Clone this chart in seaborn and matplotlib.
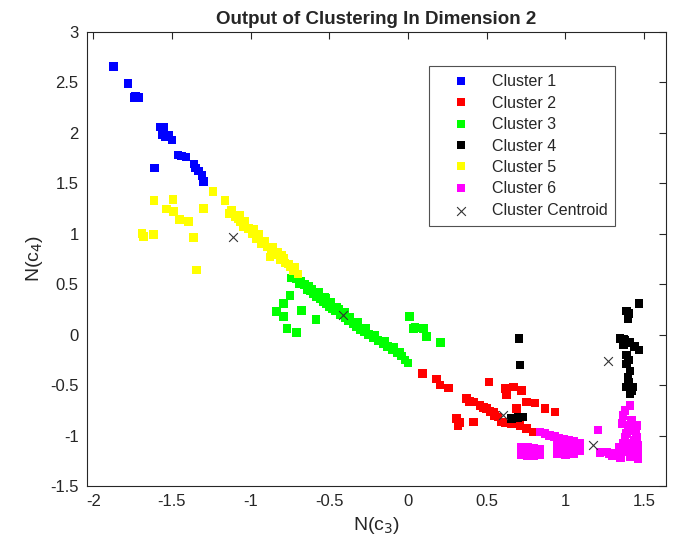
import pandas as pd
import matplotlib
matplotlib.use("Agg")
import matplotlib.pyplot as plt
import seaborn as sns

# Normalised c3 / c4 values, one list pair per cluster
c1_x = [-1.87, -1.78, -1.74, -1.71, -1.73, -1.575, -1.554, -1.564, -1.54, -1.52,
        -1.50, -1.46, -1.44, -1.41, -1.36, -1.35, -1.33, -1.31, -1.30, -1.61]
c1_y = [2.66, 2.49, 2.35, 2.35, 2.36, 2.06, 2.06, 1.98, 1.96, 1.98,
        1.93, 1.78, 1.77, 1.76, 1.69, 1.65, 1.62, 1.58, 1.52, 1.65]

c2_x = [0.093, 0.182, 0.203, 0.256, 0.516, 0.373, 0.415, 0.457, 0.50, 0.542,
        0.573, 0.595, 0.658, 0.711, 0.754, 0.796, 0.309, 0.319, 0.415, 0.616,
        0.669, 0.722, 0.627, 0.69, 0.754, 0.806, 0.87, 0.933, 0.39, 0.48,
        0.52, 0.55, 0.62, 0.33]
c2_y = [-0.385, -0.44, -0.50, -0.53, -0.47, -0.633, -0.667, -0.70, -0.732, -0.766,
        -0.815, -0.865, -0.881, -0.898, -0.93, -0.964, -0.83, -0.90, -0.865, -0.534,
        -0.518, -0.551, -0.60, -0.732, -0.667, -0.676, -0.732, -0.766, -0.66, -0.72,
        -0.76, -0.80, -0.87, -0.87]

c3_x = [-0.74, -0.71, -0.69, -0.68, -0.66, -0.64, -0.63, -0.62, -0.60, -0.58,
        -0.57, -0.56, -0.54, -0.52, -0.52, -0.50, -0.48, -0.46, -0.45, -0.43,
        -0.40, -0.40, -0.38, -0.35, -0.33, -0.30, -0.28, -0.25, -0.22, -0.19,
        -0.16, -0.13, -0.10, -0.07, -0.04, -0.02, 0.00,
        -0.70, -0.655, -0.61, -0.565, -0.53, -0.49, -0.44, -0.37, -0.32, -0.27,
        -0.21, -0.15, -0.09, -0.05,
        -0.749, -0.79, -0.834, -0.79, -0.675, -0.584, -0.77, -0.707, 0.008, 0.034,
        0.044, 0.097, 0.119, 0.208]
c3_y = [0.56, 0.55, 0.50, 0.53, 0.49, 0.45, 0.48, 0.44, 0.41, 0.38,
        0.42, 0.36, 0.33, 0.31, 0.36, 0.28, 0.26, 0.24, 0.27, 0.20,
        0.17, 0.22, 0.14, 0.11, 0.08, 0.05, 0.03, 0.00, -0.03, -0.06,
        -0.09, -0.12, -0.15, -0.18, -0.21, -0.25, -0.28,
        0.55, 0.50, 0.45, 0.40, 0.37, 0.32, 0.25, 0.17, 0.12, 0.06,
        -0.01, -0.07, -0.13, -0.17,
        0.39, 0.31, 0.23, 0.18, 0.24, 0.15, 0.06, 0.02, 0.18, 0.06,
        0.07, 0.06, -0.02, -0.08]

c4_x = [0.705, 0.711, 0.658, 0.700, 0.732, 1.469, 1.389, 1.399, 1.346, 1.38,
        1.41, 1.44, 1.469, 1.389, 1.389, 1.399, 1.389, 1.431, 1.41, 1.40,
        1.40, 1.37, 1.41, 1.40, 1.42, 1.37]
c4_y = [-0.04, -0.30, -0.83, -0.82, -0.815, 0.31, 0.236, 0.16, -0.038, -0.06,
        -0.08, -0.12, -0.154, -0.203, -0.293, -0.42, -0.52, -0.52, -0.583, -0.25,
        0.21, -0.10, -0.36, -0.47, -0.56, -0.05]

c5_x = [-1.613, -1.494, -1.536, -1.49, -1.452, -1.395, -1.691, -1.617, -1.681, -1.363,
        -1.342, -1.30, -1.24, -1.162, -1.135, -1.071, -1.067, -1.046, -1.014, -0.992,
        -0.961, -0.929, -0.897, -0.876, -0.866, -0.844, -0.813, -0.80, -0.781, -0.749,
        -0.73, -0.717, -0.70,
        -1.10, -1.04, -0.98, -0.95, -0.91, -0.86, -0.83, -0.79, -0.76, -0.72,
        -1.12, -1.08]
c5_y = [1.33, 1.34, 1.245, 1.22, 1.14, 1.12, 1.00, 0.99, 0.97, 0.96,
        0.64, 1.25, 1.42, 1.33, 1.20, 1.18, 1.12, 1.07, 1.05, 1.00,
        0.95, 0.90, 0.87, 0.77, 0.84, 0.79, 0.74, 0.79, 0.71, 0.67,
        0.63, 0.64, 0.60,
        1.17, 1.12, 1.04, 0.99, 0.93, 0.87, 0.82, 0.76, 0.70, 0.67,
        1.23, 1.15]

c6_x = [0.838, 0.87, 0.90, 0.93, 0.96, 0.99, 1.02, 1.05, 1.092,
        0.72, 0.76, 0.80, 0.84, 0.72, 0.76, 0.80, 0.84,
        0.95, 1.00, 1.05, 1.08, 0.95, 1.00, 1.05, 1.09,
        1.41, 1.367, 1.208, 1.452, 1.389, 1.452, 1.367, 1.431, 1.262, 1.325,
        1.41, 1.462, 1.40, 1.43, 1.36, 1.30, 1.44,
        1.38, 1.42, 1.36, 1.45, 1.38, 1.42, 1.46, 1.34, 1.40, 1.28,
        1.22, 1.46, 1.35]
c6_y = [-0.964, -0.98, -1.00, -1.01, -1.03, -1.04, -1.05, -1.06, -1.08,
        -1.12, -1.12, -1.13, -1.14, -1.19, -1.20, -1.20, -1.19,
        -1.10, -1.10, -1.09, -1.12, -1.18, -1.19, -1.18, -1.15,
        -0.70, -0.80, -0.947, -0.898, -0.98, -1.014, -1.08, -1.113, -1.163, -1.18,
        -1.212, -1.228, -0.90, -0.95, -1.15, -1.20, -1.05,
        -0.75, -0.85, -0.88, -0.95, -1.02, -1.08, -1.10, -1.12, -1.16, -1.18,
        -1.17, -1.18, -1.22]

centroid_x = [-1.113, -0.415, 0.605, 1.272, 1.173]
centroid_y = [0.97, 0.193, -0.80, -0.263, -1.096]

cluster_names = ["Cluster 1", "Cluster 2", "Cluster 3", "Cluster 4", "Cluster 5", "Cluster 6"]
cluster_colors = ["#0000ff", "#ff0000", "#00ff00", "#000000", "#ffff00", "#ff00ff"]

frames = []
for name, xs, ys in zip(cluster_names,
                        [c1_x, c2_x, c3_x, c4_x, c5_x, c6_x],
                        [c1_y, c2_y, c3_y, c4_y, c5_y, c6_y]):
    frames.append(pd.DataFrame({"c3": xs, "c4": ys, "cluster": name}))
df = pd.concat(frames, ignore_index=True)

sns.set_style("white")
plt.rcParams["font.family"] = ["Liberation Sans", "DejaVu Sans"]

fig = plt.figure(figsize=(6.79, 5.5), dpi=100)
ax = fig.add_axes([0.128, 0.1164, 0.853, 0.8255])

sns.scatterplot(data=df, x="c3", y="c4", hue="cluster", hue_order=cluster_names,
                palette=cluster_colors, marker="s", s=38, linewidth=0, ax=ax)
ax.scatter(centroid_x, centroid_y, marker="x", s=40, c="#333333", linewidths=0.8,
           label="Cluster Centroid", zorder=5)

ax.set_xlim(-2.04, 1.64)
ax.set_ylim(-1.5, 3)
ax.set_xticks([-2, -1.5, -1, -0.5, 0, 0.5, 1, 1.5])
ax.set_xticklabels(["-2", "-1.5", "-1", "-0.5", "0", "0.5", "1", "1.5"])
ax.set_yticks([-1.5, -1, -0.5, 0, 0.5, 1, 1.5, 2, 2.5, 3])
ax.set_yticklabels(["-1.5", "-1", "-0.5", "0", "0.5", "1", "1.5", "2", "2.5", "3"])
ax.tick_params(direction="in", top=True, right=True, length=5, width=0.8,
               labelsize=12, colors="#262626", pad=6)
for sp in ax.spines.values():
    sp.set_color("#262626")
    sp.set_linewidth(0.8)

ax.set_xlabel("N(c$_3$)", fontsize=14, color="#262626")
ax.set_ylabel("N(c$_4$)", fontsize=14, color="#262626")
ax.set_title("Output of Clustering In Dimension 2", fontsize=13.5, fontweight="bold", pad=6)

handles, labels = ax.get_legend_handles_labels()
leg = ax.legend(handles, labels, loc="upper left", bbox_to_anchor=(0.591, 0.924),
                borderaxespad=0, fontsize=11.5, frameon=True, fancybox=False,
                edgecolor="#262626", borderpad=0.5, labelspacing=0.4,
                handlelength=3.0, handletextpad=0.4, markerscale=1.0)
leg.get_frame().set_linewidth(0.8)

fig.savefig("out.png", dpi=100)
